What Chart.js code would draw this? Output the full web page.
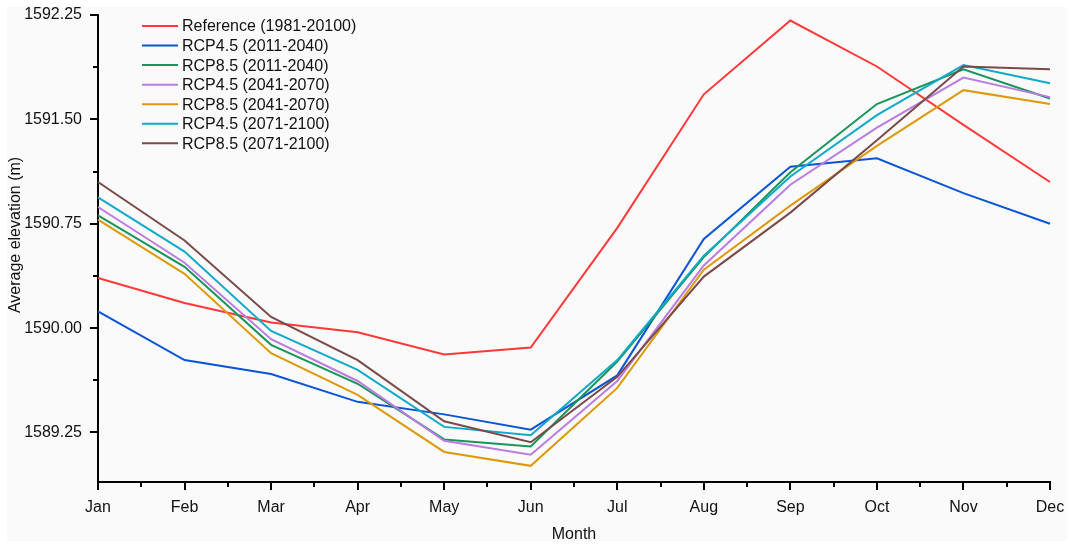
<!DOCTYPE html>
<html lang="en">
<head>
  <meta charset="UTF-8">
  <title>Average elevation by month</title>
  <script src="https://cdn.jsdelivr.net/npm/chart.js"></script>
  <style>
    body { margin: 0; background: #ffffff; }
    #wrap { position: relative; width: 1071px; height: 545px; }
    #panel { position: absolute; left: 7px; top: 7px; width: 1060px; height: 534px; background: #fafafa; }
    #elevChart { position: absolute; left: 0; top: 0; }
  </style>
</head>
<body>
<div id="wrap">
  <div id="panel"></div>
  <canvas id="elevChart" width="1071" height="545"></canvas>
</div>

<script>
  // months on the x axis
  const months = ['Jan', 'Feb', 'Mar', 'Apr', 'May', 'Jun', 'Jul', 'Aug', 'Sep', 'Oct', 'Nov', 'Dec'];

  // series values (m)
  const reference = [1590.36, 1590.18, 1590.04, 1589.97, 1589.81, 1589.86, 1590.72, 1591.68, 1592.21, 1591.88, 1591.46, 1591.05];
  const rcp45_2011 = [1590.12, 1589.77, 1589.67, 1589.47, 1589.38, 1589.27, 1589.66, 1590.64, 1591.16, 1591.22, 1590.97, 1590.75];
  const rcp85_2011 = [1590.81, 1590.44, 1589.88, 1589.60, 1589.20, 1589.15, 1589.76, 1590.51, 1591.12, 1591.61, 1591.86, 1591.65];
  const rcp45_2041 = [1590.87, 1590.47, 1589.92, 1589.62, 1589.19, 1589.09, 1589.62, 1590.45, 1591.03, 1591.44, 1591.80, 1591.66];
  const rcp85_2041 = [1590.78, 1590.39, 1589.82, 1589.52, 1589.11, 1589.01, 1589.57, 1590.42, 1590.88, 1591.31, 1591.71, 1591.61];
  const rcp45_2071 = [1590.94, 1590.55, 1589.98, 1589.70, 1589.29, 1589.23, 1589.77, 1590.52, 1591.09, 1591.53, 1591.89, 1591.76];
  const rcp85_2071 = [1591.05, 1590.63, 1590.08, 1589.77, 1589.33, 1589.18, 1589.65, 1590.37, 1590.83, 1591.35, 1591.88, 1591.86];

  const seriesLabels = [
    'Reference (1981-20100)',
    'RCP4.5 (2011-2040)',
    'RCP8.5 (2011-2040)',
    'RCP4.5 (2041-2070)',
    'RCP8.5 (2041-2070)',
    'RCP4.5 (2071-2100)',
    'RCP8.5 (2071-2100)'
  ];
  const seriesData = [reference, rcp45_2011, rcp85_2011, rcp45_2041, rcp85_2041, rcp45_2071, rcp85_2071];
  const seriesColors = ['#ff3838', '#0a55d6', '#17955a', '#bb7ce0', '#dc9a0a', '#10aac8', '#7a4a4a'];

  // y axis tick labels
  const yTickValues = [1589.25, 1590.00, 1590.75, 1591.50, 1592.25];
  const yMin = 1588.894;
  const yMax = 1592.25;

  const FONT = '"Liberation Sans", Arial, sans-serif';

  // minor ticks, axis titles and the in-plot legend
  const extras = {
    id: 'extras',
    afterDraw(chart) {
      const ctx = chart.ctx;
      const x = chart.scales.x;
      const y = chart.scales.y;
      const area = chart.chartArea;
      ctx.save();
      ctx.strokeStyle = '#000';
      ctx.lineWidth = 2;

      // minor ticks on y
      for (let i = 0; i < yTickValues.length; i++) {
        const v = yTickValues[i] - 0.375;
        if (v < yMin) continue;
        const py = Math.round(y.getPixelForValue(v));
        ctx.beginPath();
        ctx.moveTo(area.left - 5, py);
        ctx.lineTo(area.left, py);
        ctx.stroke();
      }
      // minor ticks on x
      for (let i = 0; i < months.length - 1; i++) {
        const px = Math.round(x.getPixelForValue(i + 0.5));
        ctx.beginPath();
        ctx.moveTo(px, area.bottom);
        ctx.lineTo(px, area.bottom + 5);
        ctx.stroke();
      }

      // axis titles
      ctx.fillStyle = '#111';
      ctx.font = '16px ' + FONT;
      ctx.textAlign = 'center';
      ctx.textBaseline = 'middle';
      ctx.fillText('Month', (area.left + area.right) / 2, 535);
      ctx.save();
      ctx.translate(16, 235);
      ctx.rotate(-Math.PI / 2);
      ctx.fillText('Average elevation (m)', 0, 0);
      ctx.restore();

      // legend
      ctx.textAlign = 'left';
      chart.data.datasets.forEach((ds, i) => {
        const ly = 26 + i * 19.55;
        ctx.strokeStyle = ds.borderColor;
        ctx.lineWidth = 2;
        ctx.beginPath();
        ctx.moveTo(142, ly);
        ctx.lineTo(178, ly);
        ctx.stroke();
        ctx.fillStyle = '#111';
        ctx.fillText(ds.label, 182, ly + 1);
      });
      ctx.restore();
    }
  };

  const datasets = seriesData.map((vals, i) => ({
    label: seriesLabels[i],
    data: vals,
    borderColor: seriesColors[i],
    backgroundColor: seriesColors[i],
    borderWidth: 2,
    pointRadius: 0,
    tension: 0,
    fill: false,
    order: seriesData.length - i
  }));

  new Chart(document.getElementById('elevChart'), {
    type: 'line',
    data: { labels: months, datasets: datasets },
    plugins: [extras],
    options: {
      responsive: false,
      animation: false,
      layout: { padding: { left: 0, top: 15, right: 21, bottom: 0 } },
      plugins: {
        legend: { display: false },
        tooltip: { enabled: false }
      },
      scales: {
        x: {
          offset: false,
          grid: { drawOnChartArea: false, drawTicks: true, tickLength: 8, color: '#000', lineWidth: 2 },
          border: { display: true, color: '#000', width: 2 },
          ticks: { color: '#111', font: { family: FONT, size: 16 }, padding: 8, maxRotation: 0, autoSkip: false },
          afterFit(scale) { scale.height = 63; scale.paddingLeft = 0; scale.paddingRight = 0; }
        },
        y: {
          min: yMin,
          max: yMax,
          afterBuildTicks(scale) { scale.ticks = yTickValues.map(v => ({ value: v })); },
          grid: { drawOnChartArea: false, drawTicks: true, tickLength: 8, color: '#000', lineWidth: 2 },
          border: { display: true, color: '#000', width: 2 },
          ticks: {
            color: '#111',
            font: { family: FONT, size: 16 },
            padding: 8,
            callback: v => Number(v).toFixed(2)
          },
          afterFit(scale) { scale.width = 98; scale.paddingTop = 0; scale.paddingBottom = 0; }
        }
      }
    }
  });
</script>
</body>
</html>
